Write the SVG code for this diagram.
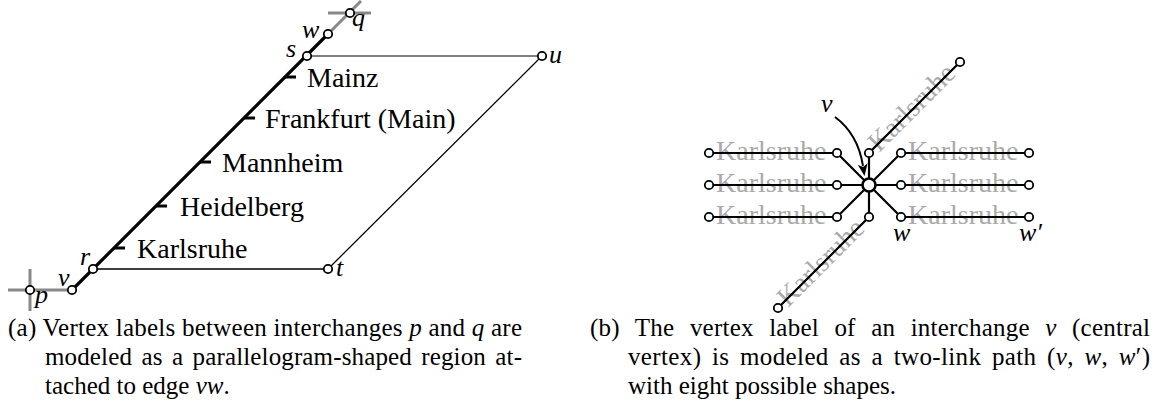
<svg xmlns="http://www.w3.org/2000/svg" width="1155" height="416" viewBox="0 0 1155 416" font-family="Liberation Serif, DejaVu Serif, serif">
<defs>
<style>
text{font-family:"Liberation Serif","DejaVu Serif",serif}
.lbl{font-size:28px;fill:#000}
.var{font-size:26px;font-style:italic;fill:#000}
.cap{font-size:25px;fill:#000}
.gl{font-size:28px;fill:#aaa}
.thin{fill:none;stroke:#000;stroke-width:1.3}
.gray{fill:none;stroke:#888;stroke-width:3}
.thick{fill:none;stroke:#000;stroke-width:3.2}
.tick{fill:none;stroke:#000;stroke-width:3}
.ln{fill:none;stroke:#000;stroke-width:2.2}
.sn{fill:#fff;stroke:#000;stroke-width:1.8}
.bn{fill:#fff;stroke:#000;stroke-width:2.6}
</style>
<marker id="ah" viewBox="0 0 12 10" refX="2" refY="5" markerWidth="12" markerHeight="10" markerUnits="userSpaceOnUse" orient="auto">
<path d="M0,0 L12,5 L0,10 L3,5 z" fill="#000"/>
</marker>
</defs>
<rect width="1155" height="416" fill="#fff"/>

<!-- (a) -->
<g id="a-labels">
<text class="lbl" x="307" y="87">Mainz</text>
<text class="lbl" x="265" y="128">Frankfurt (Main)</text>
<text class="lbl" x="222" y="172">Mannheim</text>
<text class="lbl" x="180" y="216">Heidelberg</text>
<text class="lbl" x="137" y="258">Karlsruhe</text>
</g>
<g id="a-connectors">
<path class="gray" d="M8,290 H72 M30,269 V311 M328,34 L361,1 M328,13 H371"/>
<path d="M307,56 H542" fill="none" stroke="#555" stroke-width="1.5"/>
<path class="thin" d="M93,269 H328 L542,56"/>
<path class="thick" d="M72,290 L328,34"/>
<path class="tick" d="M285,77 H296 M244,118 H255 M200,162 H211 M156,206 H167 M114,248 H125"/>
</g>
<g id="a-p"><circle class="sn" cx="30" cy="290" r="4.2"/><text class="var" x="35" y="303">p</text></g>
<g id="a-v"><circle class="sn" cx="72" cy="290" r="4.2"/><text class="var" x="58" y="286">v</text></g>
<g id="a-r"><circle class="sn" cx="93" cy="269" r="4.2"/><text class="var" x="80" y="265">r</text></g>
<g id="a-t"><circle class="sn" cx="328" cy="269" r="4.2"/><text class="var" x="336" y="276">t</text></g>
<g id="a-s"><circle class="sn" cx="307" cy="56" r="4.2"/><text class="var" x="286" y="57">s</text></g>
<g id="a-w"><circle class="sn" cx="328" cy="34" r="4.2"/><text class="var" x="302" y="38">w</text></g>
<g id="a-q"><circle class="sn" cx="350" cy="13" r="4.2"/><text class="var" x="352" y="26">q</text></g>
<g id="a-u"><circle class="sn" cx="542" cy="56" r="4.2"/><text class="var" x="549" y="63">u</text></g>

<!-- (b) -->
<g id="b-labels">
<text class="gl" x="716" y="160">Karlsruhe</text>
<text class="gl" x="716" y="192">Karlsruhe</text>
<text class="gl" x="716" y="224">Karlsruhe</text>
<text class="gl" x="908" y="160">Karlsruhe</text>
<text class="gl" x="908" y="192">Karlsruhe</text>
<text class="gl" x="908" y="224">Karlsruhe</text>
<text class="gl" transform="translate(879,153) rotate(-45)">Karlsruhe</text>
<text class="gl" transform="translate(788,308) rotate(-45)">Karlsruhe</text>
</g>
<g id="b-connectors">
<path class="ln" d="M709,153 H837 L869,185 M709,185 H837 L869,185 M709,217 H837 L869,185 M1029,153 H901 L869,185 M1029,185 H901 L869,185 M1029,217 H901 L869,185 M960,62 L869,153 V217 L778,308"/>
<path d="M835,117 Q858,134 863,166" fill="none" stroke="#000" stroke-width="2" marker-end="url(#ah)"/>
</g>
<g id="b-leaves">
<circle class="sn" cx="709" cy="153" r="4.2"/><circle class="sn" cx="709" cy="185" r="4.2"/><circle class="sn" cx="709" cy="217" r="4.2"/>
<circle class="sn" cx="1029" cy="153" r="4.2"/><circle class="sn" cx="1029" cy="185" r="4.2"/><circle class="sn" cx="1029" cy="217" r="4.2"/>
<circle class="sn" cx="960" cy="62" r="4.2"/><circle class="sn" cx="778" cy="308" r="4.2"/>
</g>
<g id="b-inner">
<circle class="sn" cx="837" cy="153" r="4.2"/><circle class="sn" cx="869" cy="153" r="4.2"/><circle class="sn" cx="901" cy="153" r="4.2"/>
<circle class="sn" cx="837" cy="185" r="4.2"/><circle class="sn" cx="901" cy="185" r="4.2"/>
<circle class="sn" cx="837" cy="217" r="4.2"/><circle class="sn" cx="869" cy="217" r="4.2"/><circle class="sn" cx="901" cy="217" r="4.2"/>
</g>
<g id="b-v"><circle class="bn" cx="869" cy="185" r="6.5"/><text class="var" x="821" y="112">v</text></g>
<g id="b-w"><text class="var" x="893" y="241">w</text></g>
<g id="b-w2"><text class="var" x="1019" y="241">w′</text></g>

<!-- captions -->
<g id="caption-a">
<text class="cap" x="8" y="336" textLength="514" lengthAdjust="spacing">(a) Vertex labels between interchanges <tspan font-style="italic">p</tspan> and <tspan font-style="italic">q</tspan> are</text>
<text class="cap" x="45" y="365" word-spacing="3" textLength="477" lengthAdjust="spacing">modeled as a parallelogram-shaped region at-</text>
<text class="cap" x="45" y="394">tached to edge <tspan font-style="italic">vw</tspan>.</text>
</g>
<g id="caption-b">
<text class="cap" x="590" y="336" word-spacing="9" textLength="560" lengthAdjust="spacing">(b) The vertex label of an interchange <tspan font-style="italic">v</tspan> (central</text>
<text class="cap" x="628" y="365" word-spacing="4" textLength="522" lengthAdjust="spacing">vertex) is modeled as a two-link path (<tspan font-style="italic">v</tspan>, <tspan font-style="italic">w</tspan>, <tspan font-style="italic">w</tspan>′)</text>
<text class="cap" x="628" y="394">with eight possible shapes.</text>
</g>
</svg>
